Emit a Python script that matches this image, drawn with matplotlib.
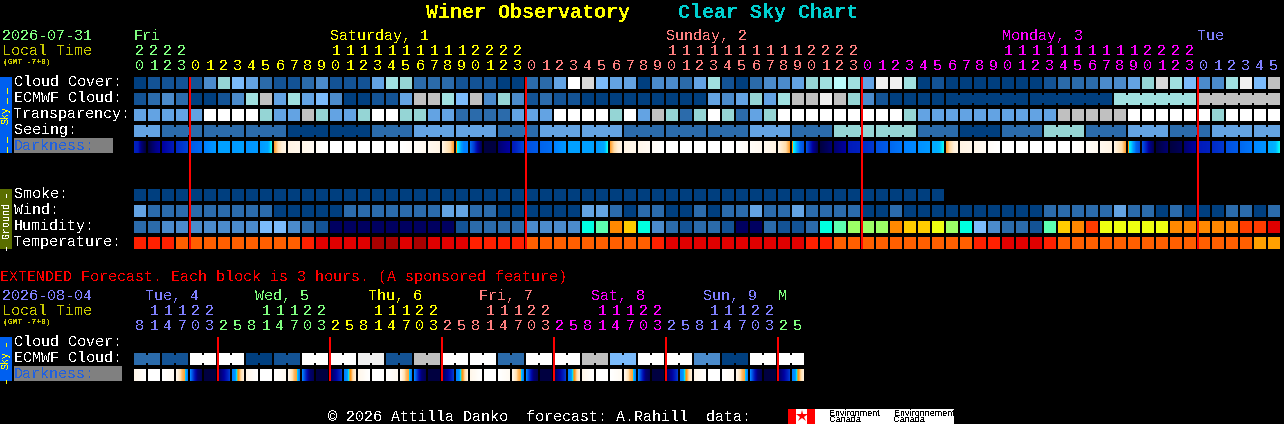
import numpy as np
import matplotlib
matplotlib.use('Agg')
import matplotlib.pyplot as plt
from matplotlib.colors import LinearSegmentedColormap

# block colours (cloud / transparency / seeing scale, then humidity and temperature)
palette = {'a': '#003f7f', 'b': '#135395', 'c': '#2b6bab', 'd': '#4b8bcb', 'e': '#63a3e3',
           'f': '#7bbbfb', 'g': '#95d5d5', 'h': '#a0e0e0', 'm': '#bbfbfb', 'i': '#c0c0c0',
           'j': '#d8d8d8', 'k': '#f0f0f0', 'l': '#ffffff',
           'n': '#000060', 'C': '#00ffe0', 'S': '#5cffb0', 'L': '#9cff66', 'Y': '#eeff11',
           'G': '#ffcc00', 'O': '#ff8800', 'T': '#ff3c00', 'X': '#e00000',
           'r': '#ff2000', 'o': '#ff5f00', 'R': '#e00000', 'D': '#a80000', 'y': '#ffa000'}

cloud_cover = ("abbbbdgfecbbcdbbbehgc"
               "ccbbbaacceljfeeaddcehbacddeghmh"
               "ekkhabaaaaaaabcccddegjhfddhkfi")
ecmwf_cloud = ("bcdcaabdhiehefdaabbei"
               "ihfidgdbcbbaaaaaaaaaedegehiikig"
               "dbaaaa" "aaaaaa" "aaaaaa" "hhhhhh" "iiiiii")
transparency = ("eeeee" "llll" "g" "ee" "i" "g" "ee" "g" "ll" "gg"
                "ee" "cccc" "eee" "llll" "g" "l" "e" "i" "g" "c" "g" "l" "g" "c" "e" "g" "llllll"
                "lll" "g" "eeeeeeeeee" "iiiii" "llllll" "g" "llll")
# seeing comes in 3 hour groups, first and last are cut short
seeing_groups = "e" "cccaac" "eeceec" "ccecgg" "cacgce" "ce" "e"
seeing_sizes = [2] + [3] * 26 + [2]
ecmwf_groups = [(58, 6), (64, 6), (70, 6), (76, 6)]
smoke = "a" * 58
wind = ("e" "ccccccccc" "aaaaa" "cccccc"
        "c" "ee" "cc" "aaaaaa" "ee" "c" "a" "cc" "aa" "c" "a" "cc" "e" "cc" "e" "cccc"
        "aa" "c" "aaaaaaaaaa" "ccccc" "e" "cc" "a" "c" "aaa" "cc" "a" "c")
humidity = ("ccdddddddffdcbnnnnnnn"
            "nnbccccddddCSOGCdcbccbnncbbcCSL"
            "LLOGGYLCfdccbSGOTYYYYYOOOOOTTX")
temperature = ("rrr" "ooooooooo" "r" "RRRR" "DD" "R" "D"
               "RRR" "rrrr" "ooooooooo" "r" "RRRRRRRRRR" "rr" "oo"
               "oooooooo" "rr" "RRR" "r" "oooooooooooooo" "yy")

# darkness samples across each block, 0 is daylight, 1 is deepest night
darkness = [[.7, .72, .9, 1], [1, .92, .85, .8], [.8, .72], [.68, .63], [.58, .55], [.5, .42], [.4, .4],
            [.42, .4], [.44, .42], [.42, .4, .39, .31], [.29, .2, .12, .1], [.1, .08], [.08, .05], [.03, 0],
            [0, 0], [0, 0], [0, 0], [0, 0], [0, 0], [0, .03], [.03, .06], [.06, .1], [.1, .15, .2, .29],
            [.3, .36, .5, .5], [.55, .65, .8, .95], [1, 1], [.9, .8], [.72, .62], [.6, .58], [.56, .54],
            [.5, .42], [.4, .4], [.4, .4], [.42, .4, .39, .31], [.29, .2, .12, .1], [.1, .08], [.08, .05],
            [.03, 0], [0, 0], [0, 0], [0, 0], [0, 0], [0, 0], [0, .03], [.03, .06], [.06, .1],
            [.1, .15, .2, .29], [.3, .36, .55, .6], [.6, .7, .85, .95], [1, .95, .9], [.9, .8], [.72, .7],
            [.68, .65], [.6, .58], [.55, .52], [.5, .47], [.45, .42], [.38, .38, .36, .31],
            [.29, .2, .12, .1], [.1, .08], [.08, .05], [.03, 0], [0, 0], [0, 0], [0, 0], [0, 0], [0, 0],
            [0, .03], [.03, .06], [.06, .1], [.1, .15, .2, .29], [.3, .36, .55, .6], [.6, .7, .85, .95],
            [1, .95, .9], [1, .95], [.9, .8], [.72, .7], [.68, .65], [.6, .58], [.55, .52], [.48, .44],
            [.38, .38, .36, .31]]

# extended forecast, blocks are 3 hours
ext_ecmwf = "cbllabllkbillcllifll" "dall"
ext_darkness = [[.08, 0], [0, 0], [0, .05], [.08, .15, .25, .29, .5], [.5, .7, .9, .95], [1, 1],
                [.95, .85, .75, .65], [.5, .45, .31, .29, .18, .12],
                [.08, 0], [0, 0], [0, .05], [.08, .15, .25, .29, .5], [.5, .7, .9, .95], [1, 1],
                [.95, .85, .75, .65], [.5, .45, .31, .29, .18, .12],
                [.08, 0], [0, 0], [0, .05], [.08, .15, .25, .29, .5], [.5, .7, .9, .95], [1, 1],
                [.95, .85, .75, .65], [.5, .45, .31, .29, .18, .12],
                [.08, 0], [0, 0], [0, .05], [.08, .15, .25, .29, .5], [.5, .7, .9, .95], [1, 1],
                [.95, .85, .75, .65], [.5, .45, .31, .29, .18, .12],
                [.08, 0], [0, 0], [0, .05], [.08, .15, .25, .29, .5], [.5, .7, .9, .95], [1, 1],
                [.95, .85, .75, .65], [.5, .45, .31, .29, .18, .12],
                [.08, 0], [0, 0], [0, .05], [.08, .15, .25, .29, .5], [.5, .7, .9, .95], [1, 1],
                [.95, .85, .75, .65], [.5, .45, .31, .29, .18, .12]]

hours = [20, 21, 22, 23,
         0, 1, 2, 3, 4, 5, 6, 7, 8, 9, 10, 11, 12, 13, 14, 15, 16, 17, 18, 19, 20, 21, 22, 23,
         0, 1, 2, 3, 4, 5, 6, 7, 8, 9, 10, 11, 12, 13, 14, 15, 16, 17, 18, 19, 20, 21, 22, 23,
         0, 1, 2, 3, 4, 5, 6, 7, 8, 9, 10, 11, 12, 13, 14, 15, 16, 17, 18, 19, 20, 21, 22, 23,
         0, 1, 2, 3, 4, 5]
ext_hours = [8, 11, 14, 17, 20, 23, 2, 5] * 6

GREEN, YELLOW, SALMON, MAGENTA, PURPLE = '#80ff80', '#ffff00', '#ff8080', '#ff00ff', '#8080ff'
# (first column, label, colour) for each day
days = [(0, 'Fri', GREEN), (4, 'Saturday, 1', YELLOW), (28, 'Sunday, 2', SALMON),
        (52, 'Monday, 3', MAGENTA), (76, 'Tue', PURPLE)]
ext_days = [(0, 'Tue, 4', PURPLE), (6, 'Wed, 5', GREEN), (14, 'Thu, 6', YELLOW),
            (22, 'Fri, 7', SALMON), (30, 'Sat, 8', MAGENTA), (38, 'Sun, 9', PURPLE), (46, 'M', GREEN)]
# day names sit over the tens digits, not over midnight
day_label_x = [134, 330, 666, 1002, 1198]
ext_label_x = [145, 255, 368, 479, 591, 703, 778]

X0, PITCH, BW, BH = 134, 14, 12, 12
MONO = 'Liberation Mono'

dark_cmap = LinearSegmentedColormap.from_list('dark', [
    (0, '#ffffff'), (.1, '#fff4e4'), (.2, '#ffdca8'), (.29, '#ffa030'), (.30, '#ff9000'), (.31, '#00ffff'),
    (.36, '#00b8ff'), (.4, '#00a0ff'), (.5, '#0080ff'), (.6, '#0050e0'), (.7, '#0020c0'), (.8, '#0000a0'),
    (.9, '#000070'), (1, '#000040')], N=512)

fig = plt.figure(figsize=(12.84, 4.24), dpi=100, facecolor='black')
ax = fig.add_axes([0, 0, 1, 1])
ax.set_facecolor('black')
ax.axis('off')


def txt(x, y, s, color='white', size=15, ha='left', **kw):
    kw.setdefault('family', MONO)
    ax.text(x, y, s, color=color, fontsize=size * 0.72, ha=ha, va='center', antialiased=False, **kw)


def colx(c):
    return X0 + c * PITCH


def row(codes, y):
    xs = [colx(i) for i in range(len(codes))]
    ax.bar(xs, BH, width=BW, bottom=y, align='edge', color=[palette[c] for c in codes], linewidth=0)


def necks(first, size, code, y):
    # same forecast value, blocks are joined with a short bridge
    for c in range(first, first + size - 1):
        ax.bar(colx(c) + BW, BH - 4, width=PITCH - BW, bottom=y + 2, align='edge', color=palette[code], linewidth=0)


def dark_row(samples, y):
    for i, s in enumerate(samples):
        vals = np.interp(np.linspace(0, 1, BW), np.linspace(0, 1, len(s)), s)
        ax.bar(colx(i) + np.arange(BW), BH, width=1, bottom=y, align='edge', color=dark_cmap(vals), linewidth=0,
               antialiased=False)


# main blocks
row(cloud_cover, 77)
row(ecmwf_cloud, 93)
for first, size in ecmwf_groups:
    necks(first, size, ecmwf_cloud[first], 93)
row(transparency, 109)
seeing = ''.join(c * n for c, n in zip(seeing_groups, seeing_sizes))
row(seeing, 125)
pos = 0
for c, n in zip(seeing_groups, seeing_sizes):
    necks(pos, n, c, 125)
    pos += n
dark_row(darkness, 141)
row(smoke, 189)
row(wind, 205)
row(humidity, 221)
row(temperature, 237)

# midnight lines
for c in [4, 28, 52, 76]:
    ax.bar(colx(c) - 1, 249 - 77, width=2, bottom=77, align='edge', color='#ff0000', linewidth=0, zorder=5)

# extended blocks
ext_cols = ''.join(c * 2 for c in ext_ecmwf)
row(ext_cols, 353)
for g, c in enumerate(ext_ecmwf):
    necks(g * 2, 2, c, 353)
dark_row(ext_darkness, 369)
for c in [6, 14, 22, 30, 38, 46]:
    ax.bar(colx(c) - 1, 381 - 337, width=2, bottom=337, align='edge', color='#ff0000', linewidth=0, zorder=5)

# title
txt(426, 13, 'Winer Observatory', '#ffff00', 20, fontweight='bold')
txt(678, 13, 'Clear Sky Chart', '#00d0d0', 20, fontweight='bold')

# header
txt(2, 36, '2026-07-31', GREEN)
txt(2, 51, 'Local Time', '#c8c800')
txt(3, 62, '(GMT -7+0)', '#c8c800', 8, fontweight='bold')
for x, (first, label, color) in zip(day_label_x, days):
    txt(x, 36, label, color)


def hour_labels(hrs, day_list, y_tens, y_units):
    for i, h in enumerate(hrs):
        color = [d[2] for d in day_list if d[0] <= i][-1]
        if h >= 10:
            txt(colx(i) + 6, y_tens, str(h // 10), color, ha='center')
        txt(colx(i) + 6, y_units, str(h % 10), color, ha='center')


hour_labels(hours, days, 51, 66)

# row labels
for y, s in [(82, 'Cloud Cover:'), (98, 'ECMWF Cloud:'), (114, 'Transparency:'), (130, 'Seeing:'),
             (194, 'Smoke:'), (210, 'Wind:'), (226, 'Humidity:'), (242, 'Temperature:')]:
    txt(14, y, s)
ax.bar(14, 15, width=99, bottom=138, align='edge', color='#808080', linewidth=0)
txt(14, 146, 'Darkness:', '#2060e0')

# side bars
ax.bar(0, 76, width=12, bottom=77, align='edge', color='#0060f0', linewidth=0)
for y in [86, 96, 135, 145]:
    txt(6, y, '-', '#ffff00', 22, ha='center', rotation=90)
txt(6, 115.5, 'Sky', '#ffff00', 10, ha='center', rotation=90)
ax.bar(0, 60, width=12, bottom=189, align='edge', color='#5a6e00', linewidth=0)
txt(6, 219.5, 'Ground', 'white', 10, ha='center', rotation=90)
for y in [192, 245]:
    txt(6, y, '-', 'white', 16, ha='center', rotation=90)

# extended section
txt(0, 277, 'EXTENDED Forecast. Each block is 3 hours. (A sponsored feature)', '#ff0000')
txt(2, 296, '2026-08-04', PURPLE)
txt(2, 311, 'Local Time', '#c8c800')
txt(3, 322, '(GMT -7+0)', '#c8c800', 8, fontweight='bold')
for x, (first, label, color) in zip(ext_label_x, ext_days):
    txt(x, 296, label, color)
hour_labels(ext_hours, ext_days, 311, 326)
txt(14, 342, 'Cloud Cover:')
txt(14, 358, 'ECMWF Cloud:')
ax.bar(14, 15, width=108, bottom=366, align='edge', color='#808080', linewidth=0)
txt(14, 374, 'Darkness:', '#2060e0')
ax.bar(0, 44, width=12, bottom=337, align='edge', color='#0060f0', linewidth=0)
txt(6, 360, 'Sky', '#ffff00', 10, ha='center', rotation=90)
for y in [341, 378]:
    txt(6, y, '-', '#ffff00', 16, ha='center', rotation=90)

# footer and logo
txt(328, 417, '\u00a9 2026 Attilla Danko  forecast: A.Rahill  data:')
ax.bar(788, 15, width=166, bottom=409, align='edge', color='white', linewidth=0)
ax.bar([788, 807], 15, width=8, bottom=409, align='edge', color='#ff0000', linewidth=0)
ax.plot([801.5], [416], marker='*', color='#ff0000', markersize=9, markeredgewidth=0)
for x, a, b in [(829, 'Environment', 'Canada'), (894, 'Environnement', 'Canada')]:
    txt(x, 413, a, 'black', 9, family='Liberation Sans')
    txt(x, 420, b, 'black', 9, family='Liberation Sans')

ax.set_xlim(0, 1284)
ax.set_ylim(424, 0)
fig.savefig('out.png', dpi=100, facecolor='black')
